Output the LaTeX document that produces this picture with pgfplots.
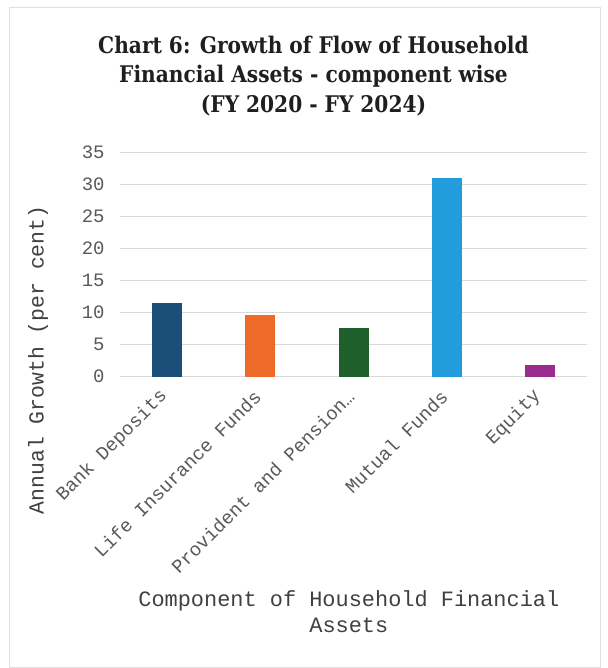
\documentclass[border=0pt]{standalone}
\usepackage{fontspec}
\setmainfont{Liberation Mono}
\newfontfamily\titlefont[FakeStretch=0.88]{DejaVu Serif}
\usepackage{pgfplots}
\pgfplotsset{compat=1.18}
\definecolor{cBank}{HTML}{1B4E79}
\definecolor{cLife}{HTML}{EE6A28}
\definecolor{cProv}{HTML}{1F5F2C}
\definecolor{cMut}{HTML}{239CDB}
\definecolor{cEq}{HTML}{9A2B8E}
\begin{document}
\begin{tikzpicture}
\useasboundingbox (0bp,0bp) rectangle (608bp,668bp);
\fill[white] (0bp,0bp) rectangle (608bp,668bp);
\draw[black!12, line width=1bp] (9bp,1bp) rectangle (600bp,660bp);
\node[font=\titlefont\bfseries\fontsize{23}{29.5}\selectfont, align=center, anchor=north, inner sep=0pt, text=black!88] at (313.5bp,632bp) {Chart 6: Growth of Flow of Household\\Financial Assets - component wise\\(FY 2020 - FY 2024)};
\begin{axis}[
  at={(120bp,291.3bp)}, anchor=south west,
  scale only axis, width=467bp, height=224bp,
  xmin=-0.5, xmax=4.5, ymin=0, ymax=35,
  ytick={0,5,...,35},
  xtick={0,1,2,3,4},
  xticklabels={Bank Deposits, Life Insurance Funds, Provident and Pension…, Mutual Funds, Equity},
  /pgf/number format/assume math mode=true,
  ymajorgrids, grid style={draw=black!15, line width=0.8bp},
  axis line style={draw=none}, major tick style={draw=none},
  yticklabel style={font=\fontsize{19}{19}\selectfont, text=black!65, xshift=-12bp},
  xticklabel style={font=\fontsize{19}{19}\selectfont, text=black!65, rotate=45, anchor=east},
  xticklabel shift=10bp,
  ybar, bar width=30bp,
  ylabel={Annual Growth (per cent)},
  ylabel style={at={(axis description cs:-0.1756,0.075)}, anchor=center, font=\fontsize{21.5}{21.5}\selectfont, text=black!75},
  xlabel={Component of Household Financial\\Assets},
  xlabel style={at={(axis description cs:0.49,-0.952)}, anchor=north, align=center, inner sep=0pt, font=\fontsize{22}{27}\selectfont, text=black!75},
]
\addplot[fill=cBank, draw=none, bar shift=0pt] coordinates {(0,11.5)};
\addplot[fill=cLife, draw=none, bar shift=0pt] coordinates {(1,9.6)};
\addplot[fill=cProv, draw=none, bar shift=0pt] coordinates {(2,7.6)};
\addplot[fill=cMut, draw=none, bar shift=0pt] coordinates {(3,31.0)};
\addplot[fill=cEq, draw=none, bar shift=0pt] coordinates {(4,1.8)};
\end{axis}
\end{tikzpicture}
\end{document}
